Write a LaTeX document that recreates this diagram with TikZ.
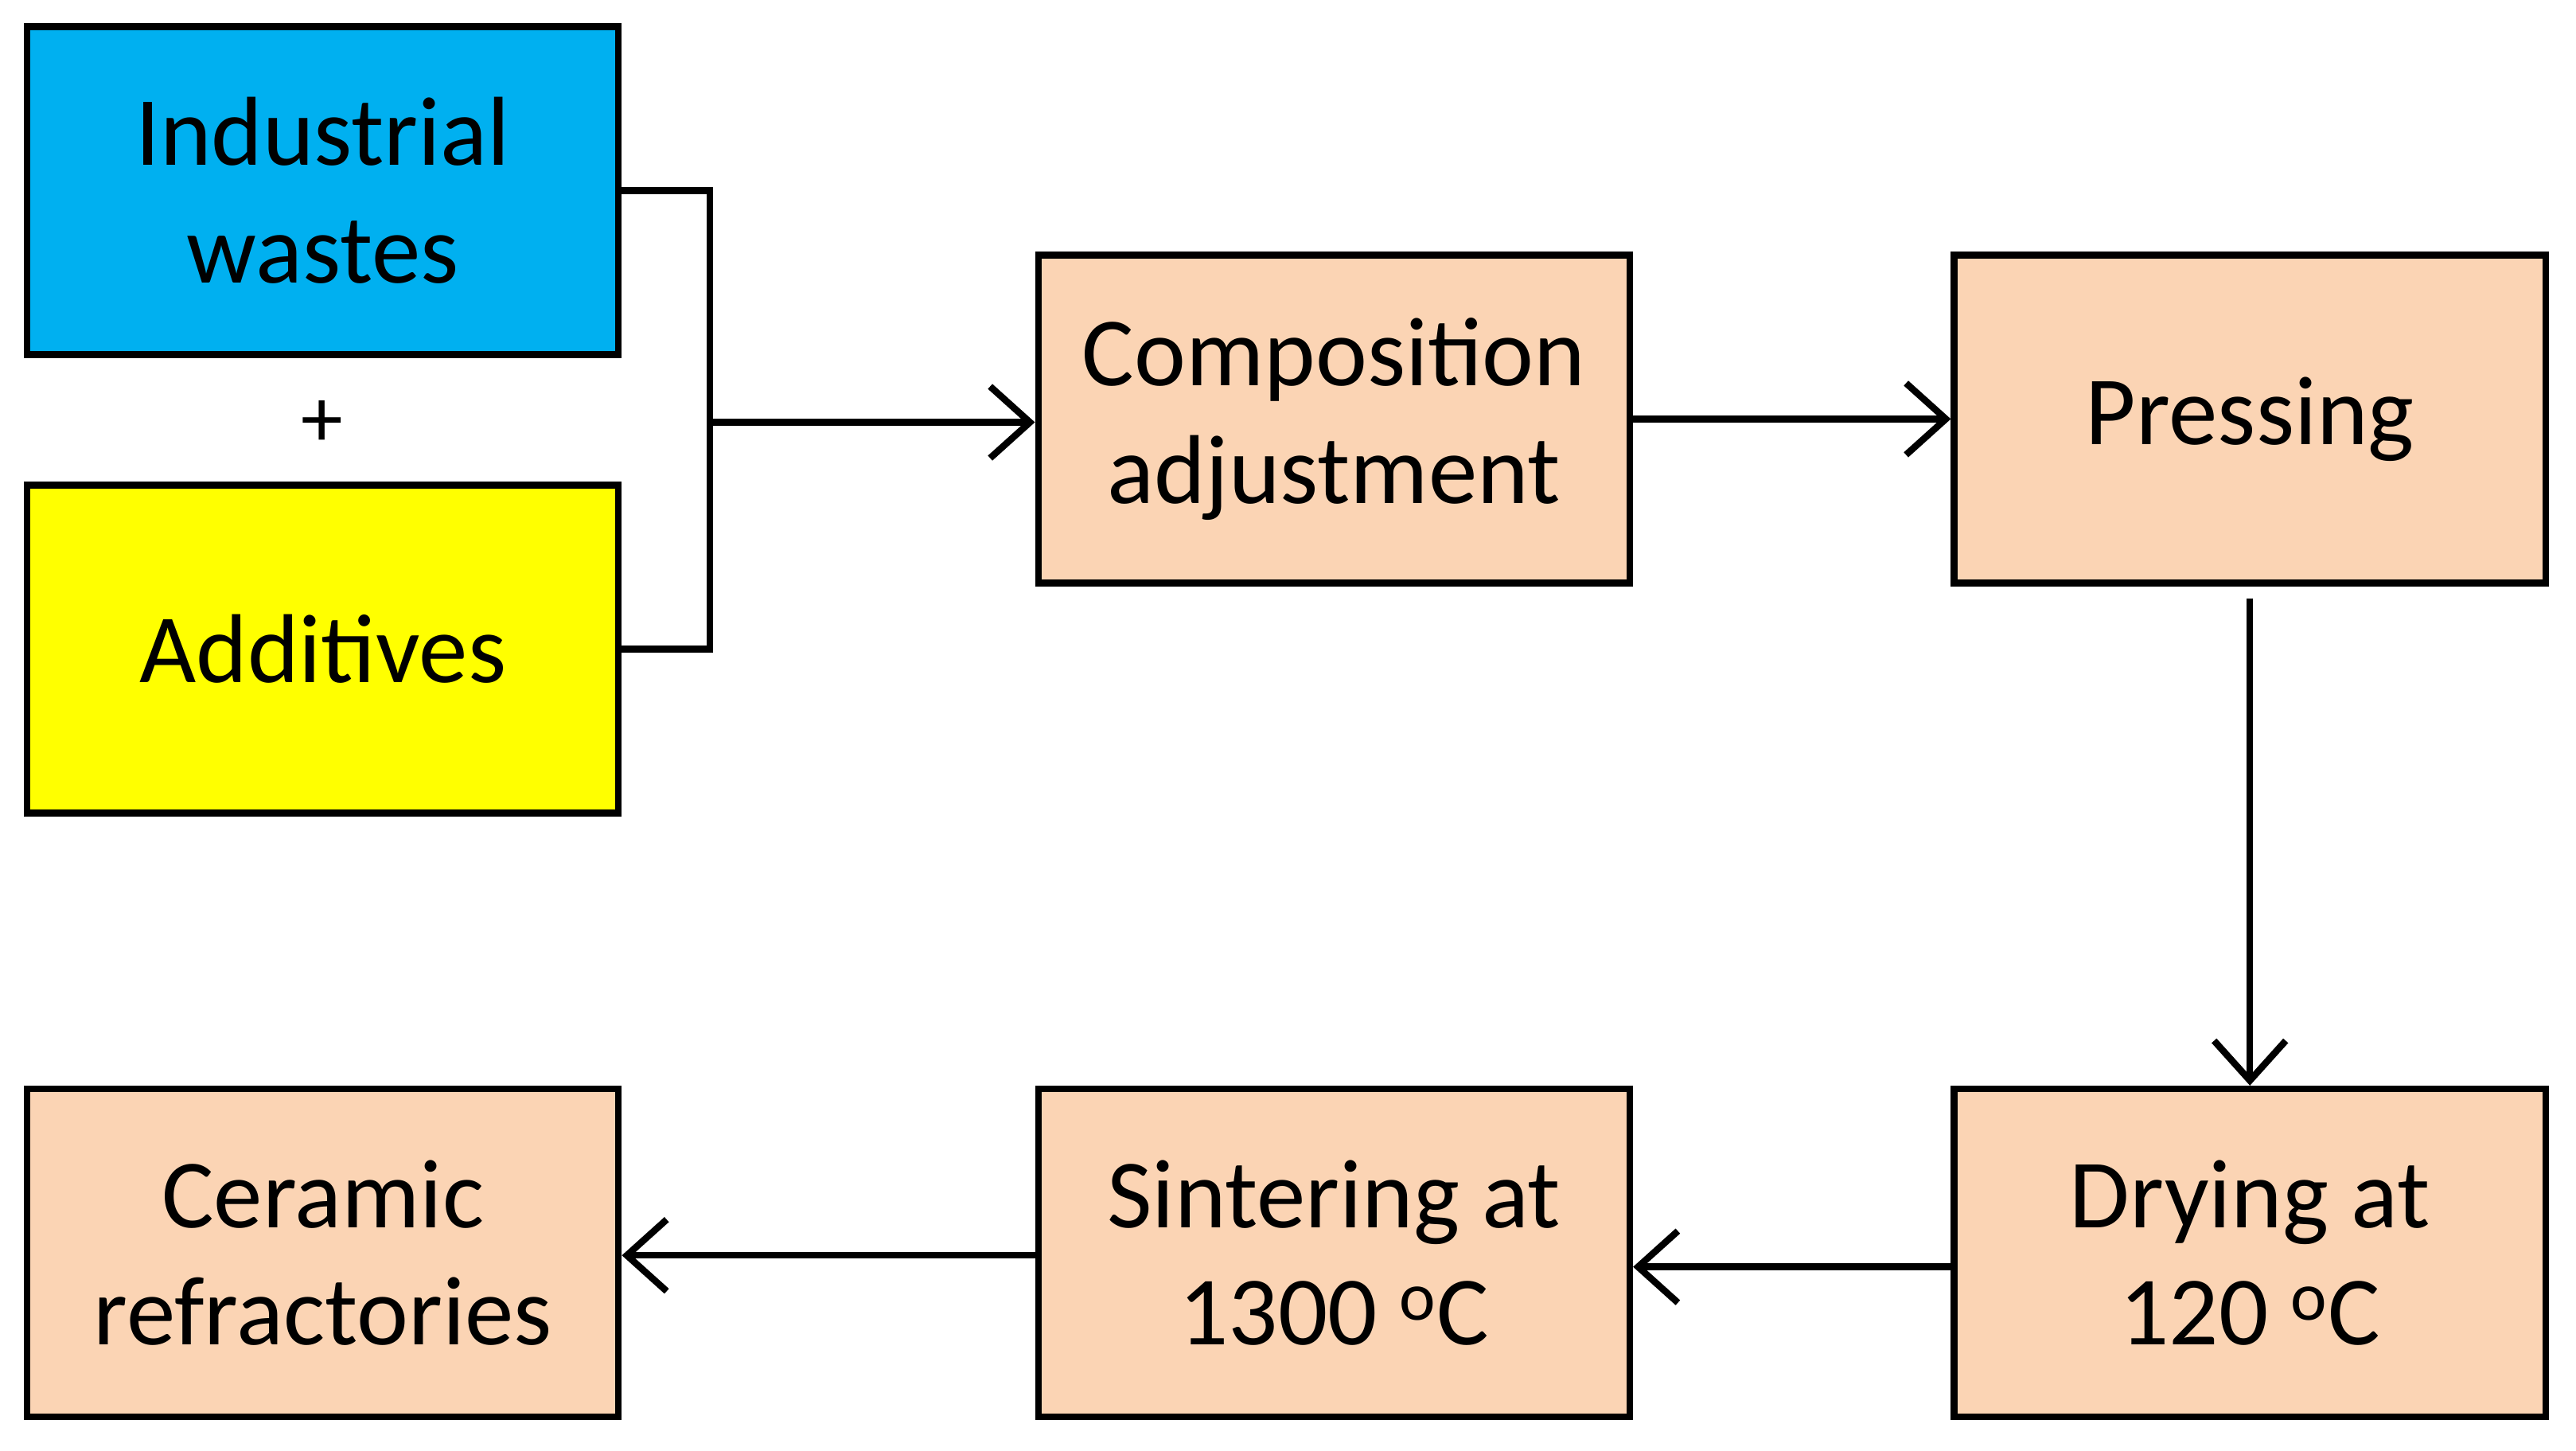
\documentclass[tikz,border=0pt]{standalone}
\usepackage{fontspec}
\setmainfont{Carlito}
\usetikzlibrary{arrows.meta}
\definecolor{peach}{HTML}{FBD4B4}
\definecolor{sky}{HTML}{00B0F0}
\definecolor{yel}{HTML}{FFFF00}
\begin{document}
\begin{tikzpicture}[x=0.2064mm,y=-0.2064mm,
  box/.style={draw=black,line width=2.4pt,fill=peach,minimum width=74.3mm,minimum height=41.2mm,align=center,font=\fontsize{35}{42}\selectfont,inner sep=0pt},
  ln/.style={line width=2.4pt},
  arr/.style={ln,-{Straight Barb[length=5mm,width=9mm,line width=2.4pt]}}]
\useasboundingbox (0,0) rectangle (1568,882.8);
\node[box,fill=sky] (iw) at (196.5,116) {Industrial\\wastes};
\node[box,fill=yel] (ad) at (196.5,395) {Additives};
\node[font=\fontsize{30}{36}\selectfont] (plus) at (196,258) {+};
\node[box] (ca) at (812,255) {Composition\\adjustment};
\node[box] (pr) at (1369.5,255) {Pressing};
\node[box] (dr) at (1369.5,762.5) {Drying at\\120 $^{\mathrm{o}}$C};
\node[box] (si) at (812,762.5) {Sintering at\\1300 $^{\mathrm{o}}$C};
\node[box] (ce) at (196.5,762.5) {Ceramic\\refractories};
\coordinate (j) at (432,257);
\draw[ln] (iw.east) -| (432,117) -- (432,395) -- (ad.east);
\draw[arr] (j) -- (ca.west |- j);
\draw[arr] (ca.east) -- (pr.west);
\draw[arr] ([yshift=-1.5mm]pr.south) -- (dr.north);
\draw[arr] (dr.west |- 0,771) -- (si.east |- 0,771);
\draw[arr] (si.west |- 0,764) -- (ce.east |- 0,764);
\end{tikzpicture}
\end{document}
